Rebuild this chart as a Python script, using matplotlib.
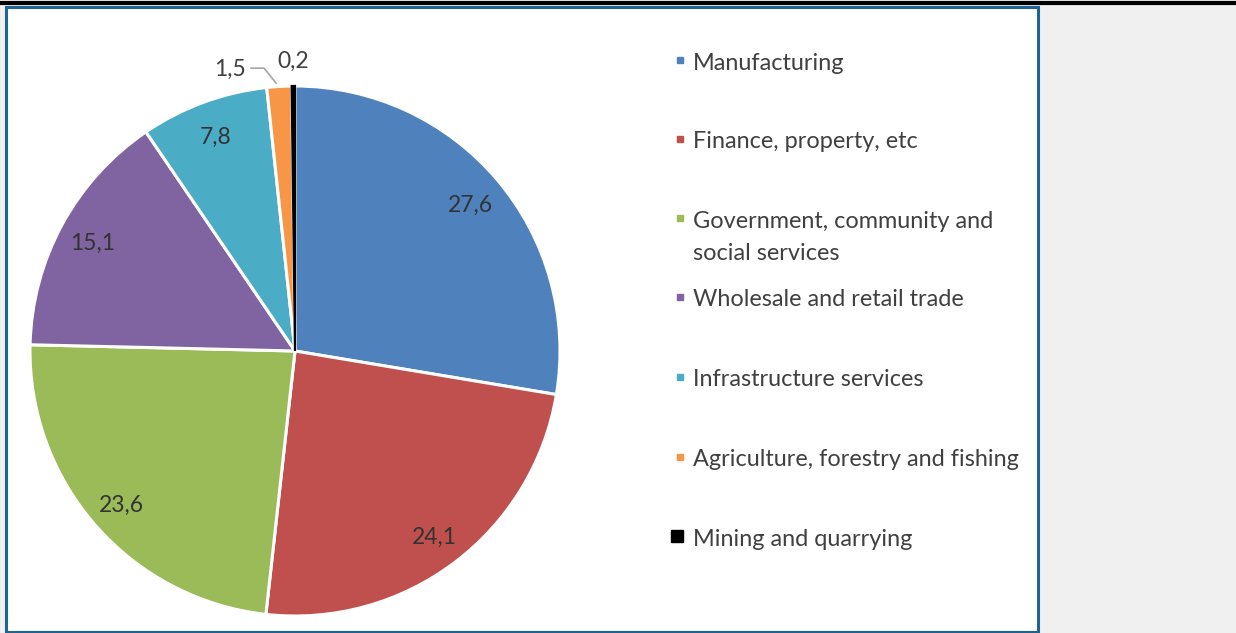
import matplotlib
matplotlib.use("Agg")
import matplotlib.pyplot as plt
import numpy as np
from matplotlib.patches import Rectangle
from matplotlib.lines import Line2D

# Share of output by sector (%)
sectors = [
    "Manufacturing",
    "Finance, property, etc",
    "Government, community and\nsocial services",
    "Wholesale and retail trade",
    "Infrastructure services",
    "Agriculture, forestry and fishing",
    "Mining and quarrying",
]
shares = [27.6, 24.1, 23.6, 15.1, 7.8, 1.5, 0.2]
colors = ["#4F81BD", "#C0504D", "#9BBB59", "#8064A2", "#4BACC6", "#F79646", "#000000"]

W, H = 1236, 633
plt.rcParams["font.family"] = ["Lato", "DejaVu Sans"]
text_color = "#404040"
LEG_FS = 16.9
LAB_FS = 16.5

fig = plt.figure(figsize=(W / 100, H / 100), dpi=100)
fig.patch.set_facecolor("#f0f0f0")

# pixel-space axes covering the whole figure
ax = fig.add_axes([0, 0, 1, 1])

cx, cy, R = 295, H - 351, 265
wedges, _ = ax.pie(
    shares, colors=colors, startangle=90, counterclock=False,
    center=(cx, cy), radius=R, frame=True,
    wedgeprops=dict(edgecolor="white", linewidth=2.2),
)
# the thin mining slice keeps a dark outline so it stays visible
wedges[-1].set_edgecolor("black")
wedges[-1].set_linewidth(1.6)
ax.set_xlim(0, W)
ax.set_ylim(0, H)
ax.set_aspect("auto")
ax.axis("off")

# white chart panel with blue frame, black rule on top
ax.add_patch(Rectangle((6, 1), 1032, H - 8, facecolor="white",
                       edgecolor="#1f6391", linewidth=2.2, zorder=0))
ax.add_line(Line2D([0, W], [H - 2.5, H - 2.5], color="black", linewidth=3, zorder=1))

def fmt(v):
    return f"{v:.1f}".replace(".", ",")

for w, v in zip(wedges, shares):
    mid = np.deg2rad((w.theta1 + w.theta2) / 2)
    if v >= 5:
        r = 0.87 * R
        ax.text(cx + r * np.cos(mid), cy + r * np.sin(mid) - 3, fmt(v),
                ha="center", va="center", fontsize=LAB_FS, color="#333333")

# small slices labelled outside
w_agri, w_mine = wedges[5], wedges[6]
mid = np.deg2rad((w_mine.theta1 + w_mine.theta2) / 2)
ax.text(cx + 1.10 * R * np.cos(mid), cy + 1.10 * R * np.sin(mid) - 2, fmt(shares[6]),
        ha="center", va="center", fontsize=LAB_FS, color=text_color)

mid = np.deg2rad((w_agri.theta1 + w_agri.theta2) / 2)
px, py = cx + 1.005 * R * np.cos(mid), cy + 1.005 * R * np.sin(mid)
ax.plot([px - 3, px - 15, px - 28], [py + 2, py + 17, py + 17],
        color="#a6a6a6", linewidth=1.2)
ax.text(px - 33, py + 16, fmt(shares[5]), ha="right", va="center",
        fontsize=LAB_FS, color=text_color)

# legend
row_y = [60, 139, 218, 297, 377, 457, 536]
for lab, c, y in zip(sectors, colors, row_y):
    yy = H - y
    if c == "#000000":
        ax.add_patch(Rectangle((671, yy - 6), 12, 12, color=c))
    else:
        ax.add_patch(Rectangle((677, yy - 3), 6, 6, color=c))
    for k, line in enumerate(lab.split("\n")):
        ax.text(693, yy - 3 - 32 * k, line, ha="left", va="center",
                fontsize=LEG_FS, color=text_color)

fig.savefig("out.png", dpi=100, facecolor=fig.get_facecolor())
